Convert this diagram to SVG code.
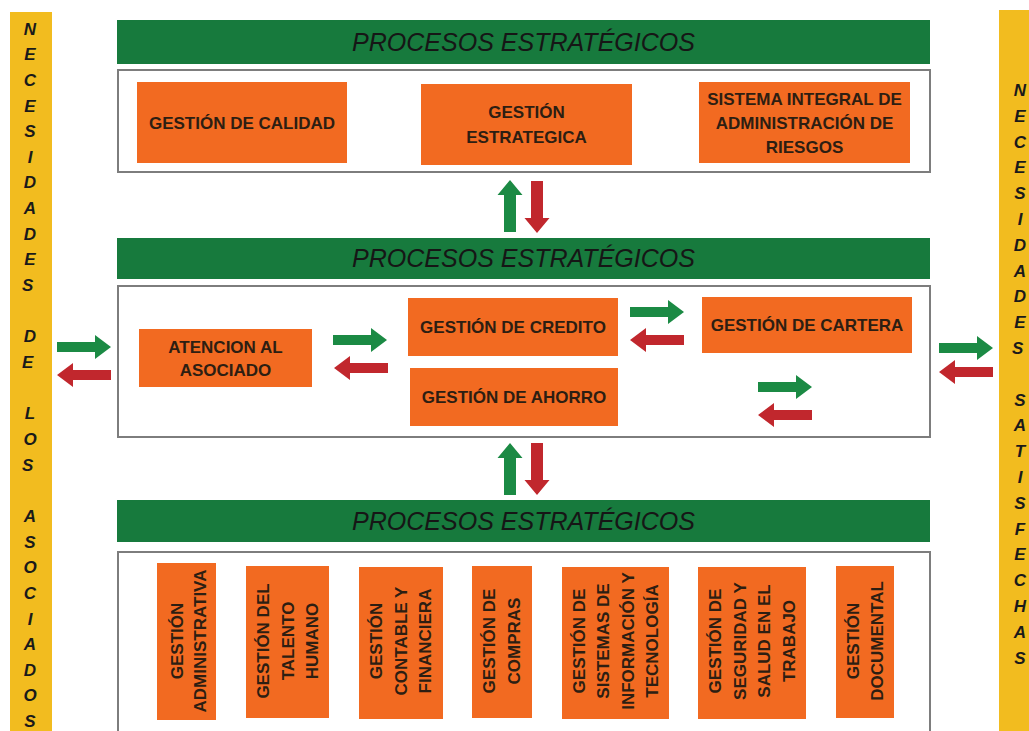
<svg xmlns="http://www.w3.org/2000/svg" width="1029" height="731" viewBox="0 0 1029 731">
<style>
.bar{fill:#F2BC1F}
.side{font-family:"Liberation Sans",Arial,sans-serif;font-weight:bold;font-style:italic;font-size:17px;fill:#1a1a1a;text-anchor:middle}
.banner{fill:#177A3D}
.title{font-family:"Liberation Sans",Arial,sans-serif;font-style:italic;font-size:25px;fill:#161616;text-anchor:middle}
.frame{fill:#ffffff;stroke:#7d7d7d;stroke-width:2}
.box{fill:#F26A21}
.lbl{font-family:"Liberation Sans",Arial,sans-serif;font-weight:bold;font-size:17px;fill:#2d1e12;text-anchor:middle}
.ga{fill:#1B8A44}
.ra{fill:#C1272D}
</style>
<defs>
<path id="arR" d="M0,-5 H38 V-12 L54,0 L38,12 V5 H0 Z"/>
<path id="arL" d="M54,-5 H16 V-12 L0,0 L16,12 V5 H54 Z"/>
<path id="arU" d="M0,0 L12.5,15 H6 V52 H-6 V15 H-12.5 Z"/>
<path id="arD" d="M0,52 L12.5,37 H6 V0 H-6 V37 H-12.5 Z"/>
</defs>
<rect width="1029" height="731" fill="#ffffff"/>

<g id="left-bar">
<rect class="bar" x="10" y="12" width="42" height="719"/>
<text class="side">
<tspan x="30" y="34.5">N</tspan><tspan x="30" y="60.2">E</tspan><tspan x="30" y="85.8">C</tspan><tspan x="30" y="111.5">E</tspan><tspan x="30" y="137.1">S</tspan><tspan x="30" y="162.8">I</tspan><tspan x="30" y="188.4">D</tspan><tspan x="30" y="214.1">A</tspan><tspan x="30" y="239.7">D</tspan><tspan x="30" y="265.4">E</tspan><tspan x="30" y="291">S</tspan>
<tspan x="30" y="342.3">D</tspan><tspan x="30" y="368">E</tspan>
<tspan x="30" y="419.3">L</tspan><tspan x="30" y="444.9">O</tspan><tspan x="30" y="470.6">S</tspan>
<tspan x="30" y="521.9">A</tspan><tspan x="30" y="547.5">S</tspan><tspan x="30" y="573.2">O</tspan><tspan x="30" y="598.8">C</tspan><tspan x="30" y="624.5">I</tspan><tspan x="30" y="650.1">A</tspan><tspan x="30" y="675.8">D</tspan><tspan x="30" y="701.4">O</tspan><tspan x="30" y="727">S</tspan>
</text>
</g>

<g id="right-bar">
<rect class="bar" x="999" y="10" width="30" height="721"/>
<text class="side">
<tspan x="1020" y="96">N</tspan><tspan x="1020" y="121.8">E</tspan><tspan x="1020" y="147.6">C</tspan><tspan x="1020" y="173.4">E</tspan><tspan x="1020" y="199.2">S</tspan><tspan x="1020" y="225">I</tspan><tspan x="1020" y="250.8">D</tspan><tspan x="1020" y="276.6">A</tspan><tspan x="1020" y="302.4">D</tspan><tspan x="1020" y="328.2">E</tspan><tspan x="1020" y="354">S</tspan>
<tspan x="1020" y="405.6">S</tspan><tspan x="1020" y="431.4">A</tspan><tspan x="1020" y="457.2">T</tspan><tspan x="1020" y="483">I</tspan><tspan x="1020" y="508.8">S</tspan><tspan x="1020" y="534.6">F</tspan><tspan x="1020" y="560.4">E</tspan><tspan x="1020" y="586.2">C</tspan><tspan x="1020" y="612">H</tspan><tspan x="1020" y="637.8">A</tspan><tspan x="1020" y="663.6">S</tspan>
</text>
</g>

<g id="strategic">
<rect class="banner" x="117" y="20" width="813" height="44"/>
<text class="title" x="523.5" y="51" textLength="343" lengthAdjust="spacingAndGlyphs">PROCESOS ESTRATÉGICOS</text>
<rect class="frame" x="118" y="70" width="812" height="102"/>
</g>
<g id="gestion-calidad">
<rect class="box" x="137" y="82" width="210" height="81"/>
<text class="lbl" x="242" y="129">GESTIÓN DE CALIDAD</text>
</g>
<g id="gestion-estrategica">
<rect class="box" x="421" y="84" width="211" height="81"/>
<text class="lbl" x="526.5" y="118">GESTIÓN</text>
<text class="lbl" x="526.5" y="143">ESTRATEGICA</text>
</g>
<g id="sistema-riesgos">
<rect class="box" x="699" y="82" width="211" height="81"/>
<text class="lbl" x="804.5" y="105">SISTEMA INTEGRAL DE</text>
<text class="lbl" x="804.5" y="129">ADMINISTRACIÓN DE</text>
<text class="lbl" x="804.5" y="153">RIESGOS</text>
</g>

<g id="misional">
<rect class="banner" x="117" y="238" width="813" height="41"/>
<text class="title" x="523.5" y="267" textLength="343" lengthAdjust="spacingAndGlyphs">PROCESOS ESTRATÉGICOS</text>
<rect class="frame" x="118" y="286" width="812" height="151"/>
</g>
<g id="atencion-asociado">
<rect class="box" x="139" y="329" width="173" height="58"/>
<text class="lbl" x="225.5" y="353">ATENCION AL</text>
<text class="lbl" x="225.5" y="376">ASOCIADO</text>
</g>
<g id="gestion-credito">
<rect class="box" x="408" y="298" width="210" height="58"/>
<text class="lbl" x="513" y="333">GESTIÓN DE CREDITO</text>
</g>
<g id="gestion-ahorro">
<rect class="box" x="410" y="368" width="208" height="58"/>
<text class="lbl" x="514" y="403">GESTIÓN DE AHORRO</text>
</g>
<g id="gestion-cartera">
<rect class="box" x="702" y="297" width="210" height="56"/>
<text class="lbl" x="807" y="331">GESTIÓN DE CARTERA</text>
</g>

<g id="apoyo">
<rect class="banner" x="117" y="500" width="813" height="42"/>
<text class="title" x="523.5" y="530" textLength="343" lengthAdjust="spacingAndGlyphs">PROCESOS ESTRATÉGICOS</text>
<rect class="frame" x="118" y="552" width="812" height="190"/>
</g>
<g id="gestion-administrativa">
<rect class="box" x="157" y="563" width="59" height="157"/>
<text class="lbl" transform="translate(177,641) rotate(-90)" y="6">GESTIÓN</text>
<text class="lbl" transform="translate(200,641) rotate(-90)" y="6">ADMINISTRATIVA</text>
</g>
<g id="gestion-talento">
<rect class="box" x="246" y="566" width="83" height="152"/>
<text class="lbl" transform="translate(263,641) rotate(-90)" y="6">GESTIÓN DEL</text>
<text class="lbl" transform="translate(287.5,641) rotate(-90)" y="6">TALENTO</text>
<text class="lbl" transform="translate(312,641) rotate(-90)" y="6">HUMANO</text>
</g>
<g id="gestion-contable">
<rect class="box" x="359" y="567" width="84" height="152"/>
<text class="lbl" transform="translate(376,641) rotate(-90)" y="6">GESTIÓN</text>
<text class="lbl" transform="translate(401,641) rotate(-90)" y="6">CONTABLE Y</text>
<text class="lbl" transform="translate(425,641) rotate(-90)" y="6">FINANCIERA</text>
</g>
<g id="gestion-compras">
<rect class="box" x="472" y="566" width="60" height="152"/>
<text class="lbl" transform="translate(489,641) rotate(-90)" y="6">GESTIÓN DE</text>
<text class="lbl" transform="translate(513.5,641) rotate(-90)" y="6">COMPRAS</text>
</g>
<g id="gestion-sistemas">
<rect class="box" x="562" y="567" width="107" height="152"/>
<text class="lbl" transform="translate(578.5,641) rotate(-90)" y="6">GESTIÓN DE</text>
<text class="lbl" transform="translate(603,641) rotate(-90)" y="6">SISTEMAS DE</text>
<text class="lbl" transform="translate(627.5,641) rotate(-90)" y="6">INFORMACIÓN Y</text>
<text class="lbl" transform="translate(652,641) rotate(-90)" y="6">TECNOLOGÍA</text>
</g>
<g id="gestion-seguridad">
<rect class="box" x="698" y="567" width="108" height="152"/>
<text class="lbl" transform="translate(715,641) rotate(-90)" y="6">GESTIÓN DE</text>
<text class="lbl" transform="translate(739.5,641) rotate(-90)" y="6">SEGURIDAD Y</text>
<text class="lbl" transform="translate(764,641) rotate(-90)" y="6">SALUD EN EL</text>
<text class="lbl" transform="translate(788.5,641) rotate(-90)" y="6">TRABAJO</text>
</g>
<g id="gestion-documental">
<rect class="box" x="836" y="566" width="58" height="152"/>
<text class="lbl" transform="translate(853,641) rotate(-90)" y="6">GESTIÓN</text>
<text class="lbl" transform="translate(877,641) rotate(-90)" y="6">DOCUMENTAL</text>
</g>

<g id="connectors">
<use href="#arR" class="ga" x="57" y="347"/>
<use href="#arL" class="ra" x="57" y="375"/>
<use href="#arR" class="ga" x="333" y="340"/>
<use href="#arL" class="ra" x="334" y="368"/>
<use href="#arR" class="ga" x="630" y="312"/>
<use href="#arL" class="ra" x="630" y="340"/>
<use href="#arR" class="ga" x="758" y="387"/>
<use href="#arL" class="ra" x="758" y="415"/>
<use href="#arR" class="ga" x="939" y="348"/>
<use href="#arL" class="ra" x="939" y="372"/>
<use href="#arU" class="ga" x="510" y="180"/>
<use href="#arD" class="ra" x="537" y="181"/>
<use href="#arU" class="ga" x="510" y="443"/>
<use href="#arD" class="ra" x="537" y="443"/>
</g>
</svg>
